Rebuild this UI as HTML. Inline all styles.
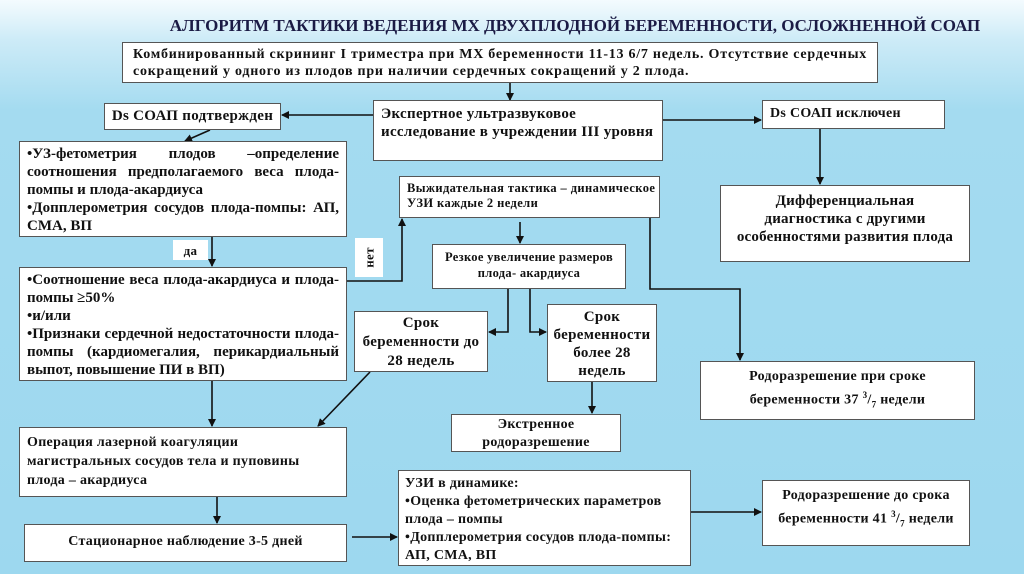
<!DOCTYPE html>
<html><head><meta charset="utf-8"><style>
body{margin:0;width:1024px;height:574px;overflow:hidden;position:relative;background:linear-gradient(180deg,#f4fbfe 0px,#cdebf7 40px,#a4dbf0 110px,#9dd8ef 574px);font-family:"Liberation Serif",serif;font-weight:bold;color:#111}
.b{position:absolute;background:#fff;border:1px solid #555;box-sizing:border-box;font-size:13px;line-height:17px;padding:3px 8px;white-space:nowrap;letter-spacing:0.3px}
.c{text-align:center}
.jl{text-align:justify;text-align-last:justify}
.t{position:absolute;left:0;width:1150px;top:16px;text-align:center;font-size:17px;color:#1b1b45}
svg{position:absolute;left:0;top:0}
</style></head><body>
<div class="t">АЛГОРИТМ ТАКТИКИ ВЕДЕНИЯ МХ ДВУХПЛОДНОЙ БЕРЕМЕННОСТИ, ОСЛОЖНЕННОЙ СОАП</div>
<svg width="1024" height="574"><defs><marker id="a" markerWidth="8" markerHeight="8" refX="7" refY="4" orient="auto" markerUnits="userSpaceOnUse"><path d="M0,0L8,4L0,8z" fill="#111"/></marker></defs>
<g stroke="#111" stroke-width="1.6" fill="none">
<path d="M510,83V100" marker-end="url(#a)"/>
<path d="M373,115H282" marker-end="url(#a)"/>
<path d="M663,120H761" marker-end="url(#a)"/>
<path d="M820,129V184" marker-end="url(#a)"/>
<path d="M210,130L185,141" marker-end="url(#a)"/>
<path d="M212,237V266" marker-end="url(#a)"/>
<path d="M347,281H402V219" marker-end="url(#a)"/>
<path d="M520,222V243" marker-end="url(#a)"/>
<path d="M650,218V289H740V360" marker-end="url(#a)"/>
<path d="M508,289V332H489" marker-end="url(#a)"/>
<path d="M530,289V332H546" marker-end="url(#a)"/>
<path d="M592,382V413" marker-end="url(#a)"/>
<path d="M212,381V426" marker-end="url(#a)"/>
<path d="M370,372L318,426" marker-end="url(#a)"/>
<path d="M217,497V523" marker-end="url(#a)"/>
<path d="M352,537H397" marker-end="url(#a)"/>
<path d="M691,512H761" marker-end="url(#a)"/>
</g></svg>
<div class="b" style="left:122px;top:42px;width:756px;height:41px;padding:3px 10px;font-size:14px;letter-spacing:0.75px">Комбинированный скрининг I триместра при МХ беременности 11-13 6/7 недель. Отсутствие сердечных<br>сокращений у одного из плодов при наличии сердечных сокращений у 2 плода.</div>
<div class="b c" style="left:104px;top:103px;width:177px;height:27px;font-size:15px;padding:4px 0 0">Ds СОАП подтвержден</div>
<div class="b" style="left:373px;top:100px;width:290px;height:61px;font-size:15px;line-height:18px;padding:4px 7px">Экспертное ультразвуковое<br>исследование в учреждении III уровня</div>
<div class="b" style="left:762px;top:100px;width:183px;height:29px;font-size:14px;padding:4px 7px">Ds СОАП исключен</div>
<div class="b" style="left:19px;top:141px;width:328px;height:96px;font-size:15px;line-height:18px;padding:3px 7px;white-space:normal;letter-spacing:0">
<div class="jl">•УЗ-фетометрия плодов –определение</div><div class="jl">соотношения предполагаемого веса плода-</div><div>помпы и плода-акардиуса</div><div class="jl">•Допплерометрия сосудов плода-помпы: АП,</div><div>СМА, ВП</div></div>
<div class="b" style="left:399px;top:176px;width:261px;height:42px;font-size:12.5px;line-height:15px;padding:4px 7px;letter-spacing:0.4px">Выжидательная тактика – динамическое<br>УЗИ каждые 2 недели</div>
<div class="b c" style="left:720px;top:185px;width:250px;height:77px;font-size:15px;line-height:18px;padding-top:6px;letter-spacing:0.2px">Дифференциальная<br>диагностика с другими<br>особенностями развития плода</div>
<div class="b c" style="left:173px;top:240px;width:35px;height:20px;border:none;font-size:13px;padding:2px 0">да</div>
<div class="b" style="left:355px;top:238px;width:28px;height:39px;border:none;font-size:13px;padding:0"><div style="transform:rotate(-90deg);position:absolute;left:-4px;top:11px;width:36px;text-align:center">нет</div></div>
<div class="b c" style="left:432px;top:244px;width:194px;height:45px;font-size:12.5px;line-height:16px;padding-top:4px">Резкое увеличение размеров<br>плода- акардиуса</div>
<div class="b" style="left:19px;top:267px;width:328px;height:114px;font-size:15px;line-height:18px;padding:3px 7px;white-space:normal;letter-spacing:0">
<div class="jl">•Соотношение веса плода-акардиуса и плода-</div><div>помпы ≥50%</div><div>•и/или</div><div class="jl">•Признаки сердечной недостаточности плода-</div><div class="jl">помпы (кардиомегалия, перикардиальный</div><div>выпот, повышение ПИ в ВП)</div></div>
<div class="b c" style="left:354px;top:311px;width:134px;height:61px;font-size:15px;line-height:19px;padding:2px 0 0">Срок<br>беременности до<br>28 недель</div>
<div class="b c" style="left:547px;top:304px;width:110px;height:78px;font-size:15px;line-height:18px;padding:3px 0 0">Срок<br>беременности<br>более 28<br>недель</div>
<div class="b c" style="left:700px;top:361px;width:275px;height:59px;font-size:14px;line-height:18px;padding-top:6px">Родоразрешение при сроке<br>беременности 37 <sup style="font-size:9px">3</sup>/<sub style="font-size:9px">7</sub> недели</div>
<div class="b c" style="left:451px;top:414px;width:170px;height:38px;font-size:14px;line-height:18px;padding-top:1px">Экстренное<br>родоразрешение</div>
<div class="b" style="left:19px;top:427px;width:328px;height:70px;font-size:14px;line-height:19px;padding:5px 7px">Операция лазерной коагуляции<br>магистральных сосудов тела и пуповины<br>плода – акардиуса</div>
<div class="b" style="left:398px;top:470px;width:293px;height:96px;font-size:14px;line-height:18px;padding:4px 6px">УЗИ в динамике:<br>•Оценка фетометрических параметров<br>плода – помпы<br>•Допплерометрия сосудов плода-помпы:<br>АП, СМА, ВП</div>
<div class="b c" style="left:762px;top:480px;width:208px;height:66px;font-size:14px;line-height:18px;padding-top:6px">Родоразрешение до срока<br>беременности 41 <sup style="font-size:9px">3</sup>/<sub style="font-size:9px">7</sub> недели</div>
<div class="b c" style="left:24px;top:524px;width:323px;height:38px;font-size:14px;padding-top:8px">Стационарное наблюдение 3-5 дней</div>
</body></html>
